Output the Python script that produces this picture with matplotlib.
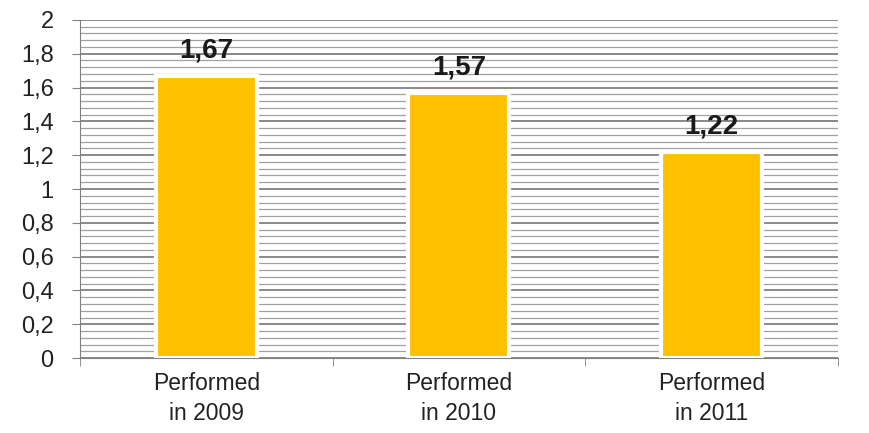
import numpy as np
import matplotlib.pyplot as plt
from matplotlib.ticker import MultipleLocator, FixedLocator, FuncFormatter

categories = ['Performed\nin 2009', 'Performed\nin 2010', 'Performed\nin 2011']
values = [1.67, 1.57, 1.22]
labels = ['1,67', '1,57', '1,22']

plt.rcParams['font.family'] = ['Liberation Sans', 'DejaVu Sans']

fig = plt.figure(figsize=(8.7, 4.33), dpi=100)
ax = fig.add_axes([0.092, 0.173, 0.871, 0.781])

x = np.arange(len(categories))
bars = ax.bar(x, values, width=0.4, color='#FFC000', edgecolor='white',
              linewidth=3, zorder=3)

for b, lab in zip(bars, labels):
    ax.annotate(lab, (b.get_x() + b.get_width() / 2, b.get_height()),
                xytext=(0, 9), textcoords='offset points', ha='center',
                va='bottom', fontsize=20, fontweight='bold', color='#1a1a1a')

ax.set_xlim(-0.5, 2.5)
ax.set_ylim(0, 2)
ax.yaxis.set_major_locator(MultipleLocator(0.2))
ax.yaxis.set_minor_locator(MultipleLocator(0.04))
ax.yaxis.set_major_formatter(FuncFormatter(lambda v, p: f'{round(v, 1):g}'.replace('.', ',')))
ax.grid(axis='y', which='major', color='#808080', linewidth=1.3, zorder=0)
ax.grid(axis='y', which='minor', color='#a0a0a0', linewidth=0.9, zorder=0)
ax.set_axisbelow(True)

ax.set_xticks(x)
ax.set_xticklabels(categories, linespacing=1.4)
ax.xaxis.set_minor_locator(FixedLocator([-0.5, 0.5, 1.5, 2.5]))
ax.tick_params(axis='x', which='major', length=0, pad=10, labelsize=16.5, colors='#222222')
ax.tick_params(axis='x', which='minor', length=6, color='#808080')
ax.tick_params(axis='y', which='major', length=6, color='#808080', labelsize=17,
               labelcolor='#222222', pad=13)
ax.tick_params(axis='y', which='minor', length=0)

for s in ['top', 'right']:
    ax.spines[s].set_visible(False)
ax.spines['left'].set_color('#808080')
ax.spines['bottom'].set_color('#808080')

fig.savefig('out.png', dpi=100)
